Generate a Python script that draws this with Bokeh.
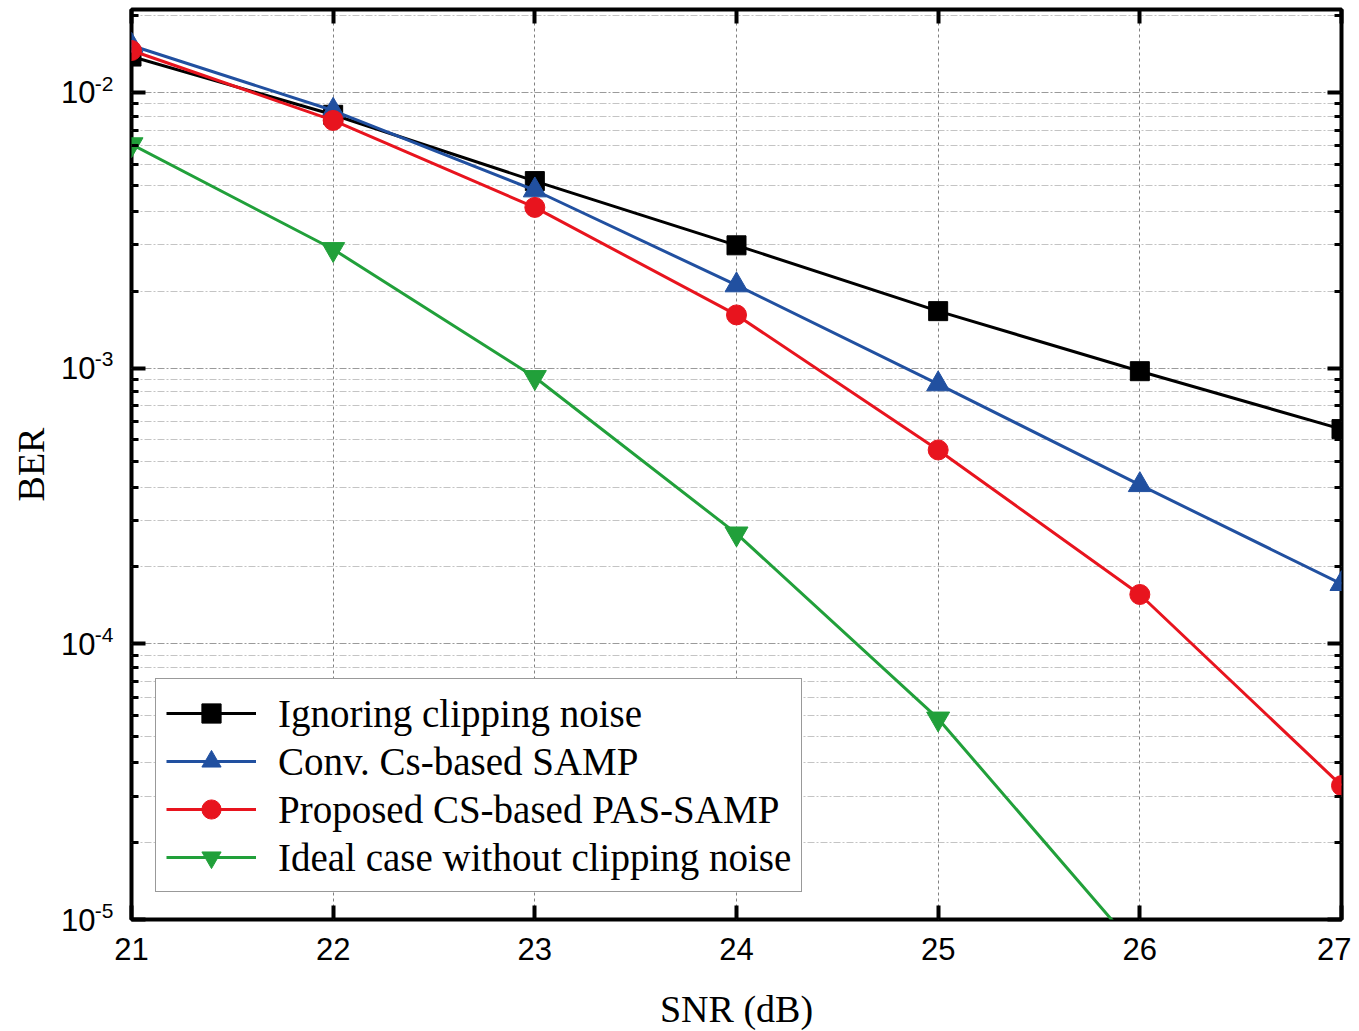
from bokeh.plotting import figure
from bokeh.models import Range1d, FixedTicker, LinearAxis, LogAxis, Legend, LegendItem
from bokeh.embed import file_html
from bokeh.resources import INLINE

# ---- data ----
snr = [21, 22, 23, 24, 25, 26, 27]
ber_ignoring = [0.0135, 0.0083, 0.00477, 0.00279, 0.00161, 0.000975, 0.000601]
ber_conv = [0.0148, 0.0086, 0.00442, 0.0020, 0.000875, 0.000377, 0.000165]
ber_proposed = [0.0142, 0.00792, 0.00383, 0.00156, 0.000505, 0.000151, 3.06e-5]
snr_ideal = [21, 22, 23, 24, 25, 26]
ber_ideal = [0.00648, 0.0027, 0.000927, 0.000251, 5.35e-5, 7.6e-6]

labels = [
    "Ignoring clipping noise",
    "Conv. Cs-based SAMP",
    "Proposed CS-based PAS-SAMP",
    "Ideal case without clipping noise",
]

x_ticks = [21, 22, 23, 24, 25, 26, 27]
y_major = [1e-5, 1e-4, 1e-3, 1e-2]
y_tick_base = "10"
y_tick_exponents = ["-5", "-4", "-3", "-2"]
y_top = 0.02
y_minor = [d * (1 + 0.9 * k) for d in y_major for k in range(1, 10) if d * (1 + 0.9 * k) <= y_top]

TICK_FONT = "Liberation Sans"
SERIF = "Liberation Serif"

p = figure(
    frame_width=1210, frame_height=910,
    x_range=Range1d(21, 27), y_range=Range1d(1e-5, y_top),
    y_axis_type="log",
    output_backend="svg", toolbar_location=None,
    min_border_left=131, min_border_right=10, min_border_top=9, min_border_bottom=108,
    background_fill_color="white", border_fill_color="white",
)

xt = FixedTicker(ticks=x_ticks, minor_ticks=[])
yt = FixedTicker(ticks=y_major, minor_ticks=y_minor)
p.xaxis.ticker = xt
p.yaxis.ticker = yt
p.xgrid.ticker = xt
p.ygrid.ticker = yt

# grids
p.xgrid.grid_line_color = "#808080"
p.xgrid.grid_line_dash = "3 3"
p.xgrid.grid_line_width = 1
p.ygrid.grid_line_color = "#9a9a9a"
p.ygrid.grid_line_dash = "7 2 2 2"
p.ygrid.grid_line_width = 1
p.ygrid.minor_grid_line_color = "#c4c4c4"
p.ygrid.minor_grid_line_dash = "7 2 2 2"
p.ygrid.minor_grid_line_width = 1

p.outline_line_color = "black"
p.outline_line_width = 4

def style_ticks(ax):
    ax.axis_line_color = None
    ax.major_tick_in = 14
    ax.major_tick_out = 0
    ax.minor_tick_in = 7
    ax.minor_tick_out = 0
    ax.major_tick_line_width = 4
    ax.minor_tick_line_width = 3
    ax.major_tick_line_color = "black"
    ax.minor_tick_line_color = "black"

def hide_labels(ax):
    ax.major_label_text_font_size = "1px"
    ax.major_label_text_color = None
    ax.major_label_standoff = 0

# bottom axis
xa = p.xaxis[0]
style_ticks(xa)
xa.major_label_text_font = TICK_FONT
xa.major_label_text_font_size = "31px"
xa.major_label_text_color = "black"
xa.major_label_standoff = 18
xa.axis_label = "SNR (dB)"
xa.axis_label_text_font = SERIF
xa.axis_label_text_font_size = "38px"
xa.axis_label_text_font_style = "normal"
xa.axis_label_text_color = "black"
xa.axis_label_standoff = 25

# inner left axis: ticks + exponent part of the labels (raised)
ya = p.yaxis[0]
style_ticks(ya)
ya.major_label_overrides = {v: e + "\n " for v, e in zip(y_major, y_tick_exponents)}
ya.major_label_text_font = TICK_FONT
ya.major_label_text_font_size = "21px"
ya.major_label_text_line_height = 0.8
ya.major_label_text_color = "black"
ya.major_label_standoff = 18

# outer left axis: base "10" of the labels and the axis title
ya2 = LogAxis(ticker=yt)
ya2.axis_line_color = None
ya2.major_tick_line_color = None
ya2.minor_tick_line_color = None
ya2.major_tick_in = 0
ya2.major_tick_out = 0
ya2.minor_tick_in = 0
ya2.minor_tick_out = 0
ya2.major_label_overrides = {v: y_tick_base for v in y_major}
ya2.major_label_text_font = TICK_FONT
ya2.major_label_text_font_size = "31px"
ya2.major_label_text_color = "black"
ya2.major_label_standoff = -4
ya2.axis_label = "BER"
ya2.axis_label_text_font = SERIF
ya2.axis_label_text_font_size = "38px"
ya2.axis_label_text_font_style = "normal"
ya2.axis_label_text_color = "black"
ya2.axis_label_standoff = 6
p.add_layout(ya2, "left")

top_axis = LinearAxis(ticker=xt)
style_ticks(top_axis)
hide_labels(top_axis)
p.add_layout(top_axis, "above")
right_axis = LogAxis(ticker=yt)
style_ticks(right_axis)
hide_labels(right_axis)
p.add_layout(right_axis, "right")

series = [
    (snr, ber_ignoring, "black", "square", 19),
    (snr, ber_conv, "#2150A0", "triangle", 23),
    (snr, ber_proposed, "#E8141E", "circle", 20),
    (snr_ideal, ber_ideal, "#21A03A", "inverted_triangle", 23),
]

items = []
for (xs, ys, color, marker, size), lab in zip(series, labels):
    lr = p.line(xs, ys, line_color=color, line_width=3)
    sr = p.scatter(xs, ys, marker=marker, size=size, fill_color=color, line_color=color)
    items.append(LegendItem(label=lab, renderers=[lr, sr]))

legend = Legend(
    items=items, location=(24, 27),
    label_text_font=SERIF, label_text_font_size="39px", label_text_color="black",
    glyph_width=90, glyph_height=48, label_height=48, label_standoff=22,
    spacing=0, padding=10, margin=0,
    border_line_color="#333333", border_line_width=1.5,
    background_fill_color="white", background_fill_alpha=1.0,
)
p.add_layout(legend)

open("out.html", "w").write(file_html(p, INLINE))
